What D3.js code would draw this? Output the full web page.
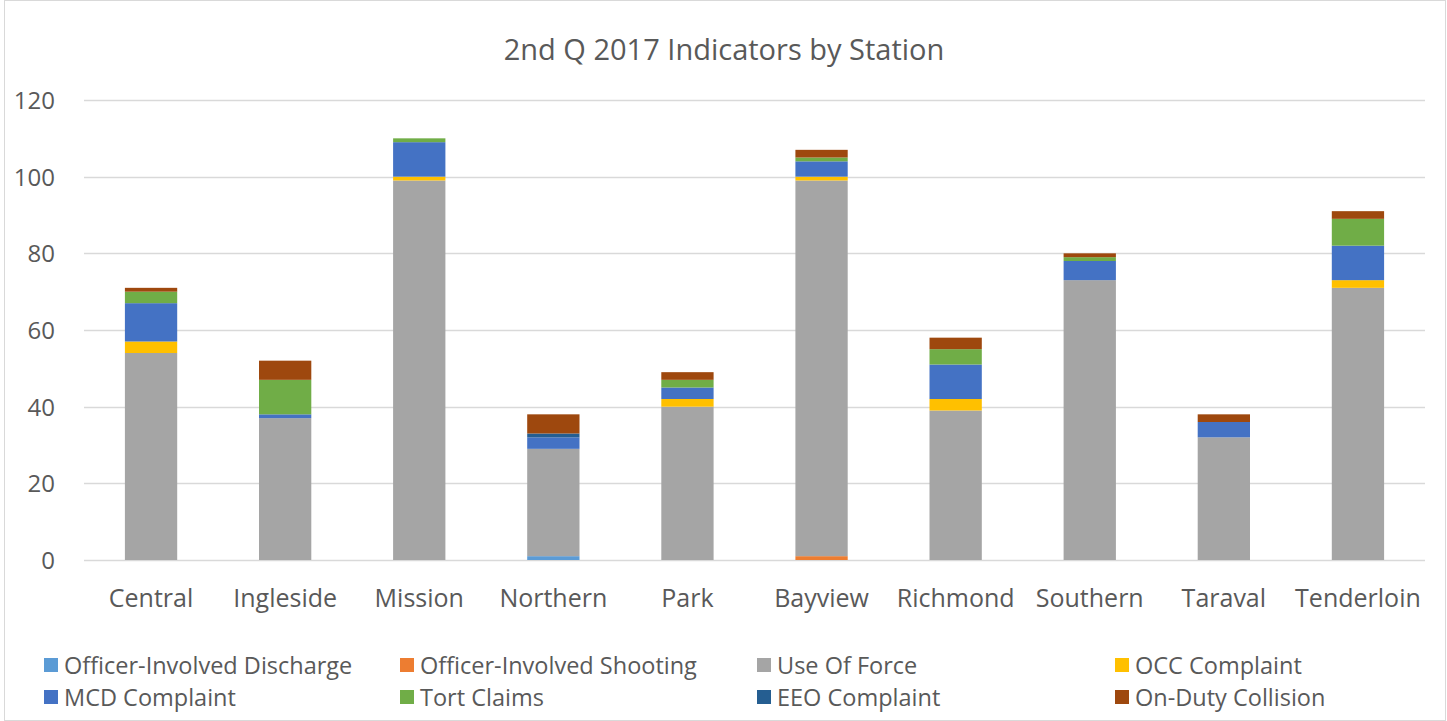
<!DOCTYPE html>
<html>
<head>
<meta charset="utf-8">
<script src="https://cdn.jsdelivr.net/npm/d3@7"></script>
<style>
  body { margin: 0; background: #fff; }
  svg text { font-family: "Open Sans", sans-serif; fill: #595959; }
</style>
</head>
<body>
<svg id="chart"></svg>
<script>
const WIDTH = 1447
const HEIGHT = 721

const stations = ['Central', 'Ingleside', 'Mission', 'Northern', 'Park', 'Bayview', 'Richmond', 'Southern', 'Taraval', 'Tenderloin']
const seriesNames = ['Officer-Involved Discharge', 'Officer-Involved Shooting', 'Use Of Force', 'OCC Complaint',
    'MCD Complaint', 'Tort Claims', 'EEO Complaint', 'On-Duty Collision']
const seriesColors = ['#5B9BD5', '#ED7D31', '#A5A5A5', '#FFC000', '#4472C4', '#70AD47', '#255E91', '#9E480E']

// values per station, in series order
const discharge = [0, 0, 0, 1, 0, 0, 0, 0, 0, 0]
const shooting = [0, 0, 0, 0, 0, 1, 0, 0, 0, 0]
const useOfForce = [54, 37, 99, 28, 40, 98, 39, 73, 32, 71]
const occComplaint = [3, 0, 1, 0, 2, 1, 3, 0, 0, 2]
const mcdComplaint = [10, 1, 9, 3, 3, 4, 9, 5, 4, 9]
const tortClaims = [3, 9, 1, 0, 2, 1, 4, 1, 0, 7]
const eeoComplaint = [0, 0, 0, 1, 0, 0, 0, 0, 0, 0]
const collision = [1, 5, 0, 5, 2, 2, 3, 1, 2, 2]
const yTicks = [0, 20, 40, 60, 80, 100, 120]

const seriesValues = [discharge, shooting, useOfForce, occComplaint, mcdComplaint, tortClaims, eeoComplaint, collision]
const rows = stations.map((s, i) => {
    const row = { station: s }
    seriesNames.forEach((n, k) => { row[n] = seriesValues[k][i] })
    return row
})

const svg = d3.select('#chart').attr('width', WIDTH).attr('height', HEIGHT)

svg.append('rect')
    .attr('x', 4.5).attr('y', 0.5)
    .attr('width', WIDTH - 6).attr('height', HEIGHT - 1)
    .attr('fill', '#fff').attr('stroke', '#d9d9d9')

const margin = { left: 84, right: 22, top: 100, bottom: 161 }
const x = d3.scaleBand().domain(stations).range([margin.left, WIDTH - margin.right]).paddingInner(0.61).paddingOuter(0.305)
const y = d3.scaleLinear().domain([0, 120]).range([HEIGHT - margin.bottom, margin.top])

svg.append('text')
    .attr('x', 724).attr('y', 60)
    .attr('text-anchor', 'middle')
    .style('font-size', '29px')
    .text('2nd Q 2017 Indicators by Station')

// gridlines
svg.append('g').selectAll('line').data(yTicks).join('line')
    .attr('x1', margin.left).attr('x2', WIDTH - margin.right)
    .attr('y1', d => Math.round(y(d)) + 0.5).attr('y2', d => Math.round(y(d)) + 0.5)
    .attr('stroke', '#d9d9d9').attr('stroke-width', 1.5)

svg.append('g').selectAll('text').data(yTicks).join('text')
    .attr('x', 55).attr('y', d => y(d) + 9)
    .attr('text-anchor', 'end')
    .style('font-size', '24px')
    .text(d => d)

const stack = d3.stack().keys(seriesNames)(rows)

svg.append('g').selectAll('g').data(stack).join('g')
    .attr('fill', (d, i) => seriesColors[i])
    .selectAll('rect').data(d => d).join('rect')
    .attr('x', d => x(d.data.station))
    .attr('width', x.bandwidth())
    .attr('y', d => y(d[1]))
    .attr('height', d => y(d[0]) - y(d[1]))

svg.append('g').selectAll('text').data(stations).join('text')
    .attr('x', d => x(d) + x.bandwidth() / 2).attr('y', 607)
    .attr('text-anchor', 'middle')
    .style('font-size', '25px')
    .text(d => d)

// legend
const legendX = [44, 400, 757, 1115]
const legendY = [665, 697]
const legend = svg.append('g').selectAll('g').data(seriesNames).join('g')
    .attr('transform', (d, i) => `translate(${legendX[i % 4]},${legendY[Math.floor(i / 4)]})`)
legend.append('rect')
    .attr('x', 0).attr('y', -7).attr('width', 14).attr('height', 14)
    .attr('fill', (d, i) => seriesColors[seriesNames.indexOf(d)])
legend.append('text')
    .attr('x', 20).attr('y', 9)
    .style('font-size', '23.5px')
    .text(d => d)
</script>
</body>
</html>
